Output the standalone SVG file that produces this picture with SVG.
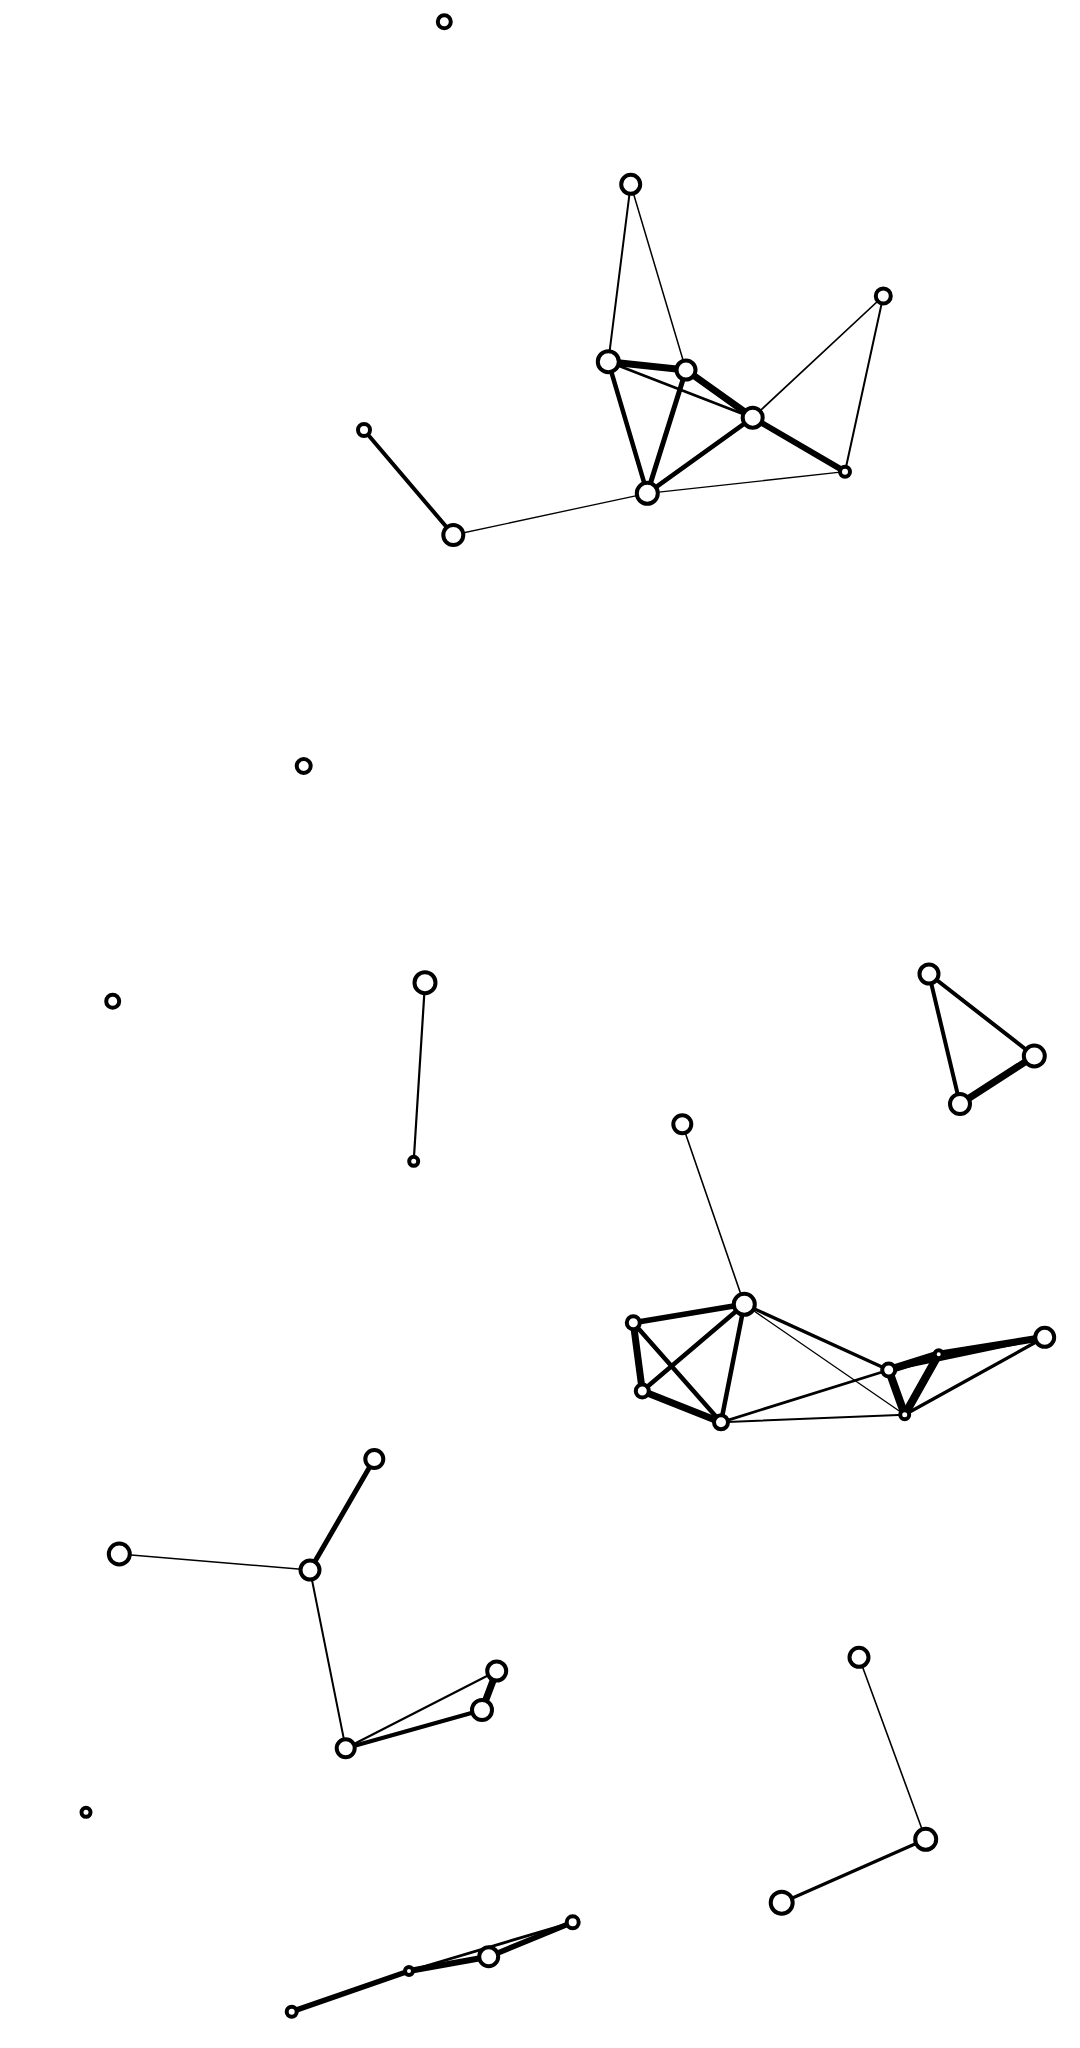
<svg xmlns="http://www.w3.org/2000/svg" width="1080" height="2048" viewBox="0 0 1080 2048">
<style>
.e{stroke:#000;fill:none;stroke-linecap:round}
.n{fill:#fff;stroke:#000;stroke-width:4}
</style>
<rect width="1080" height="2048" fill="#fff"/>
<g id="connectors">
<line class="e" x1="630.7" y1="184.3" x2="608.3" y2="361.7" stroke-width="2"/>
<line class="e" x1="630.7" y1="184.3" x2="686" y2="370" stroke-width="1.5"/>
<line class="e" x1="608.3" y1="361.7" x2="686" y2="370" stroke-width="7"/>
<line class="e" x1="608.3" y1="361.7" x2="752.7" y2="417.7" stroke-width="2.8"/>
<line class="e" x1="608.3" y1="361.7" x2="647.3" y2="493.3" stroke-width="4.5"/>
<line class="e" x1="686" y1="370" x2="752.7" y2="417.7" stroke-width="7"/>
<line class="e" x1="686" y1="370" x2="647.3" y2="493.3" stroke-width="5"/>
<line class="e" x1="752.7" y1="417.7" x2="647.3" y2="493.3" stroke-width="4.5"/>
<line class="e" x1="752.7" y1="417.7" x2="883.3" y2="296" stroke-width="1.7"/>
<line class="e" x1="752.7" y1="417.7" x2="845" y2="471.7" stroke-width="6"/>
<line class="e" x1="883.3" y1="296" x2="845" y2="471.7" stroke-width="2"/>
<line class="e" x1="647.3" y1="493.3" x2="845" y2="471.7" stroke-width="1.3"/>
<line class="e" x1="647.3" y1="493.3" x2="453.3" y2="535" stroke-width="1.3"/>
<line class="e" x1="364" y1="430" x2="453.3" y2="535" stroke-width="4"/>
<line class="e" x1="425" y1="982.7" x2="413.7" y2="1161.3" stroke-width="2.2"/>
<line class="e" x1="929" y1="974" x2="1034.3" y2="1056" stroke-width="4"/>
<line class="e" x1="929" y1="974" x2="960" y2="1104" stroke-width="4"/>
<line class="e" x1="960" y1="1104" x2="1034.3" y2="1056" stroke-width="7"/>
<line class="e" x1="682.3" y1="1124.3" x2="744.3" y2="1304.3" stroke-width="1.6"/>
<line class="e" x1="744.3" y1="1304.3" x2="633.3" y2="1322.7" stroke-width="5.5"/>
<line class="e" x1="744.3" y1="1304.3" x2="642.3" y2="1391" stroke-width="4.5"/>
<line class="e" x1="744.3" y1="1304.3" x2="721" y2="1422.3" stroke-width="4.5"/>
<line class="e" x1="744.3" y1="1304.3" x2="888.7" y2="1370" stroke-width="3.3"/>
<line class="e" x1="744.3" y1="1304.3" x2="904.7" y2="1414.7" stroke-width="1.3"/>
<line class="e" x1="633.3" y1="1322.7" x2="642.3" y2="1391" stroke-width="7"/>
<line class="e" x1="633.3" y1="1322.7" x2="721" y2="1422.3" stroke-width="4.5"/>
<line class="e" x1="642.3" y1="1391" x2="721" y2="1422.3" stroke-width="7"/>
<line class="e" x1="721" y1="1422.3" x2="888.7" y2="1370" stroke-width="2.8"/>
<line class="e" x1="721" y1="1422.3" x2="904.7" y2="1414.7" stroke-width="2"/>
<line class="e" x1="888.7" y1="1370" x2="938.7" y2="1354.3" stroke-width="8"/>
<line class="e" x1="888.7" y1="1370" x2="904.7" y2="1414.7" stroke-width="8"/>
<line class="e" x1="938.7" y1="1354.3" x2="904.7" y2="1414.7" stroke-width="8"/>
<line class="e" x1="938.7" y1="1354.3" x2="1044.7" y2="1337.3" stroke-width="7"/>
<line class="e" x1="888.7" y1="1370" x2="1044.7" y2="1337.3" stroke-width="3.5"/>
<line class="e" x1="904.7" y1="1414.7" x2="1044.7" y2="1337.3" stroke-width="3.3"/>
<line class="e" x1="374.3" y1="1459" x2="310" y2="1570" stroke-width="5"/>
<line class="e" x1="119.3" y1="1554" x2="310" y2="1570" stroke-width="1.6"/>
<line class="e" x1="310" y1="1570" x2="345.7" y2="1748.3" stroke-width="2"/>
<line class="e" x1="345.7" y1="1748.3" x2="496.7" y2="1671" stroke-width="2.2"/>
<line class="e" x1="345.7" y1="1748.3" x2="482" y2="1710" stroke-width="4"/>
<line class="e" x1="496.7" y1="1671" x2="482" y2="1710" stroke-width="7"/>
<line class="e" x1="859" y1="1657.3" x2="925.7" y2="1839.3" stroke-width="1.6"/>
<line class="e" x1="925.7" y1="1839.3" x2="781.7" y2="1902.7" stroke-width="3.3"/>
<line class="e" x1="291.7" y1="2011.7" x2="409" y2="1971" stroke-width="5.5"/>
<line class="e" x1="409" y1="1971" x2="488.7" y2="1956.7" stroke-width="6"/>
<line class="e" x1="409" y1="1971" x2="572.7" y2="1922.3" stroke-width="2.8"/>
<line class="e" x1="488.7" y1="1956.7" x2="572.7" y2="1922.3" stroke-width="5.5"/>
</g>
<g id="n1"><circle class="n" cx="444.3" cy="21.7" r="6.5"/></g>
<g id="n2"><circle class="n" cx="630.7" cy="184.3" r="9.5"/></g>
<g id="n3"><circle class="n" cx="883.3" cy="296" r="7.5"/></g>
<g id="n4"><circle class="n" cx="608.3" cy="361.7" r="10.5"/></g>
<g id="n5"><circle class="n" cx="686" cy="370" r="9.5"/></g>
<g id="n6"><circle class="n" cx="752.7" cy="417.7" r="10"/></g>
<g id="n7"><circle class="n" cx="845" cy="471.7" r="5"/></g>
<g id="n8"><circle class="n" cx="647.3" cy="493.3" r="10.5"/></g>
<g id="n9"><circle class="n" cx="364" cy="430" r="6"/></g>
<g id="n10"><circle class="n" cx="453.3" cy="535" r="10"/></g>
<g id="n11"><circle class="n" cx="303.7" cy="766" r="7"/></g>
<g id="n12"><circle class="n" cx="112.7" cy="1001.3" r="6.5"/></g>
<g id="n13"><circle class="n" cx="425" cy="982.7" r="10.5"/></g>
<g id="n14"><circle class="n" cx="413.7" cy="1161.3" r="4.5"/></g>
<g id="n15"><circle class="n" cx="929" cy="974" r="9.5"/></g>
<g id="n16"><circle class="n" cx="1034.3" cy="1056" r="10.5"/></g>
<g id="n17"><circle class="n" cx="960" cy="1104" r="10"/></g>
<g id="n18"><circle class="n" cx="682.3" cy="1124.3" r="9"/></g>
<g id="n19"><circle class="n" cx="744.3" cy="1304.3" r="10.5"/></g>
<g id="n20"><circle class="n" cx="633.3" cy="1322.7" r="6.5"/></g>
<g id="n21"><circle class="n" cx="642.3" cy="1391" r="6.5"/></g>
<g id="n22"><circle class="n" cx="721" cy="1422.3" r="7"/></g>
<g id="n23"><circle class="n" cx="888.7" cy="1370" r="6.5"/></g>
<g id="n24"><circle class="n" cx="938.7" cy="1354.3" r="4"/></g>
<g id="n25"><circle class="n" cx="904.7" cy="1414.7" r="4.5"/></g>
<g id="n26"><circle class="n" cx="1044.7" cy="1337.3" r="9.5"/></g>
<g id="n27"><circle class="n" cx="374.3" cy="1459" r="9"/></g>
<g id="n28"><circle class="n" cx="119.3" cy="1554" r="10.5"/></g>
<g id="n29"><circle class="n" cx="310" cy="1570" r="9.5"/></g>
<g id="n30"><circle class="n" cx="496.7" cy="1671" r="9.5"/></g>
<g id="n31"><circle class="n" cx="482" cy="1710" r="10"/></g>
<g id="n32"><circle class="n" cx="345.7" cy="1748.3" r="9"/></g>
<g id="n33"><circle class="n" cx="86" cy="1812.3" r="4.5"/></g>
<g id="n34"><circle class="n" cx="859" cy="1657.3" r="9.5"/></g>
<g id="n35"><circle class="n" cx="925.7" cy="1839.3" r="10.5"/></g>
<g id="n36"><circle class="n" cx="781.7" cy="1902.7" r="11"/></g>
<g id="n37"><circle class="n" cx="572.7" cy="1922.3" r="6"/></g>
<g id="n38"><circle class="n" cx="409" cy="1971" r="4"/></g>
<g id="n39"><circle class="n" cx="488.7" cy="1956.7" r="9.5"/></g>
<g id="n40"><circle class="n" cx="291.7" cy="2011.7" r="5"/></g>
</svg>
